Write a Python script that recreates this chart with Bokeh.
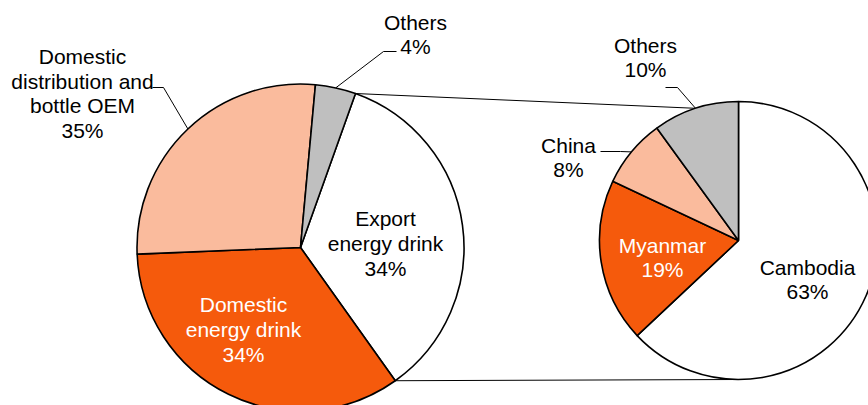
import math
from bokeh.plotting import figure
from bokeh.models import Range1d, ColumnDataSource
from bokeh.embed import file_html
from bokeh.resources import INLINE
from bokeh.core.properties import value

# ---------------- data ----------------
main_names = ["Export\nenergy drink", "Domestic\nenergy drink",
              "Domestic\ndistribution and\nbottle OEM", "Others"]
main_shares = [34.7, 34.2, 27.1, 4.0]          # drawn slice sizes
main_pct_labels = ["34%", "34%", "35%", "4%"]   # printed labels

export_names = ["Cambodia", "Myanmar", "China", "Others"]
export_shares = [63, 19, 8, 10]
export_pct_labels = ["63%", "19%", "8%", "10%"]

# ---------------- styles / layout ----------------
main_colors = ["#FFFFFF", "#F55A0C", "#FABB9D", "#BFBFBF"]
export_colors = ["#FFFFFF", "#F55A0C", "#FABB9D", "#BFBFBF"]
main_text_colors = ["#000000", "#FFFFFF", "#000000", "#000000"]
export_text_colors = ["#000000", "#FFFFFF", "#000000", "#000000"]

FONT = "Liberation Sans"
FS = "21px"

W, H = 868, 405
def Y(yi):
    return H - yi

LC = (300, Y(247)); LR = 163.5; LSTART = 70.35
RC = (738, Y(240)); RR = 139; RSTART = 90.0

# label block centres (image px)
main_label_pos = [(385, 243), (243, 329), (82, 93), (415, 34)]
export_label_pos = [(807, 279), (662, 257), (568, 157), (645, 57)]

# leader elbows for outside labels
main_leaders = {2: [(163, 87), (152, 87)], 3: [(383, 51), (396, 51)]}
export_leaders = {2: [(620, 151), (600, 151)], 3: [(677, 87), (665, 87)]}


def angles(shares, start):
    tot = float(sum(shares))
    s_list, e_list = [], []
    cum = 0.0
    for v in shares:
        s = start - cum / tot * 360.0
        cum += v
        e = start - cum / tot * 360.0
        s_list.append(s)
        e_list.append(e)
    return s_list, e_list


def pt(c, r, deg):
    return (c[0] + r * math.cos(math.radians(deg)), c[1] + r * math.sin(math.radians(deg)))


p = figure(width=W, height=H, x_range=Range1d(0, W), y_range=Range1d(0, H),
           output_backend="svg", toolbar_location=None, min_border=0,
           x_axis_location=None, y_axis_location=None)
p.grid.visible = False
p.outline_line_color = None
p.background_fill_color = "#FFFFFF"
p.border_fill_color = "#FFFFFF"

ms, me = angles(main_shares, LSTART)
es, ee = angles(export_shares, RSTART)

# connector (series) lines from the Export slice to the secondary pie
a = pt(LC, LR, ms[0]); b = pt(RC, RR, 108)
p.line([a[0], b[0]], [a[1], b[1]], line_color="#000000", line_width=1)
a = pt(LC, LR, me[0]); b = pt(RC, RR, 270)
p.line([a[0], b[0]], [a[1], b[1]], line_color="#000000", line_width=1)

# leader lines
for idx, pts in main_leaders.items():
    mid = (ms[idx] + me[idx]) / 2
    a = pt(LC, LR, mid)
    xs = [a[0]] + [q[0] for q in pts]
    ys = [a[1]] + [Y(q[1]) for q in pts]
    p.line(xs, ys, line_color="#000000", line_width=1)
for idx, pts in export_leaders.items():
    mid = (es[idx] + ee[idx]) / 2
    a = pt(RC, RR, mid)
    xs = [a[0]] + [q[0] for q in pts]
    ys = [a[1]] + [Y(q[1]) for q in pts]
    p.line(xs, ys, line_color="#000000", line_width=1)

# pies
src_m = ColumnDataSource(dict(
    x=[LC[0]] * 4, y=[LC[1]] * 4,
    s=[math.radians(v) for v in ms], e=[math.radians(v) for v in me],
    color=main_colors))
p.wedge(x="x", y="y", radius=LR, start_angle="s", end_angle="e", direction="clock",
        fill_color="color", line_color="#000000", line_width=1.6, source=src_m)

src_e = ColumnDataSource(dict(
    x=[RC[0]] * 4, y=[RC[1]] * 4,
    s=[math.radians(v) for v in es], e=[math.radians(v) for v in ee],
    color=export_colors))
p.wedge(x="x", y="y", radius=RR, start_angle="s", end_angle="e", direction="clock",
        fill_color="color", line_color="#000000", line_width=1.6, source=src_e)

# labels
lbl = ColumnDataSource(dict(
    x=[q[0] for q in main_label_pos] + [q[0] for q in export_label_pos],
    y=[Y(q[1]) for q in main_label_pos] + [Y(q[1]) for q in export_label_pos],
    text=[n + "\n" + l for n, l in zip(main_names, main_pct_labels)] +
         [n + "\n" + l for n, l in zip(export_names, export_pct_labels)],
    color=main_text_colors + export_text_colors))
p.text(x="x", y="y", text="text", source=lbl, text_color="color",
       text_align="center", text_baseline="middle", text_font=value(FONT),
       text_font_size=FS, text_line_height=1.07)

open("out.html", "w").write(file_html(p, INLINE))
